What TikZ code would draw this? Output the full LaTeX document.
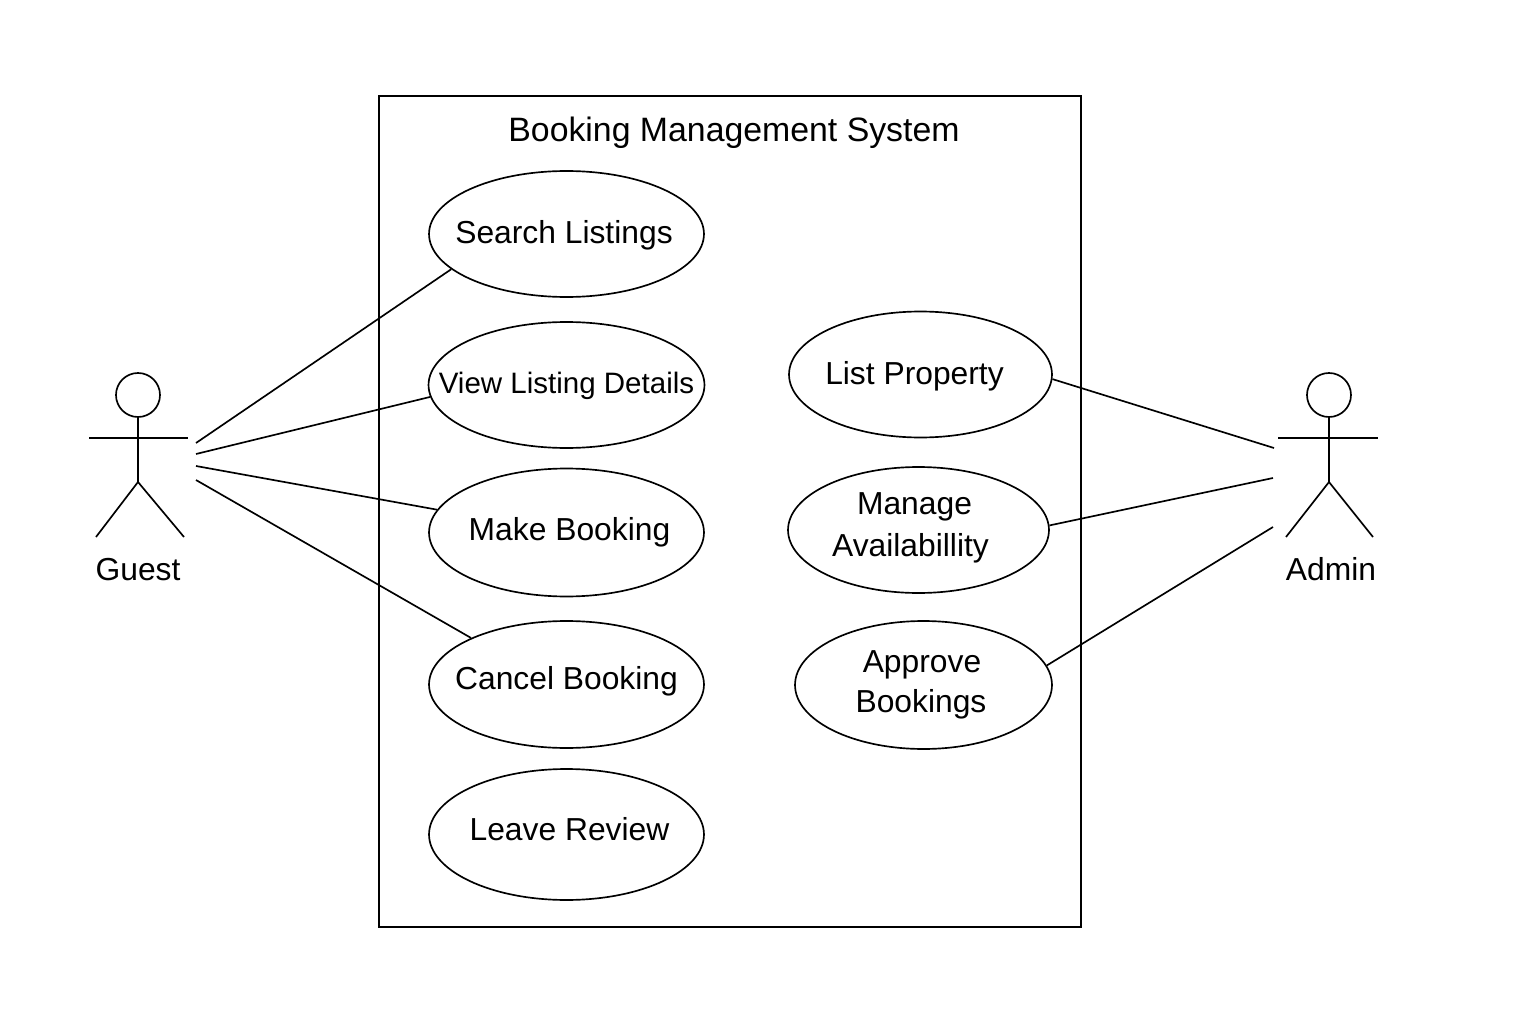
\documentclass[tikz,border=0pt]{standalone}
\usepackage{fontspec}
\setmainfont{Liberation Sans}
\usetikzlibrary{shapes.geometric}
\tikzset{
    usecase/.style = {draw, ellipse, inner sep=0pt},
    labeltext/.style = {font=\fontsize{18.1}{21}\selectfont, inner sep=0pt, align=center},
}
\begin{document}
\begin{tikzpicture} [x=0.02cm, y=-0.02cm, line width=0.95pt]
    \useasboundingbox (0, 0) rectangle (1536, 1024);

    % Systemgrenze
    \draw (379, 96) rectangle (1081, 927);
    \node [labeltext] (title) at (734, 132.5) {\fontsize{19.25}{22}\selectfont Booking Management System};

    % Anwendungsfaelle Guest
    \node [usecase, minimum width=5.5cm, minimum height=2.52cm] (search) at (566.5, 234) {};
    \node [labeltext] (searchtext) at (564, 235) {Search Listings};
    \node [usecase, minimum width=5.52cm, minimum height=2.52cm] (view) at (566.5, 385) {};
    \node [labeltext] (viewtext) at (566.5, 386) {\fontsize{16.8}{20}\selectfont View Listing Details};
    \node [usecase, minimum width=5.5cm, minimum height=2.56cm] (make) at (566.5, 532.5) {};
    \node [labeltext] (maketext) at (569.5, 532.5) {Make Booking};
    \node [usecase, minimum width=5.5cm, minimum height=2.54cm] (cancel) at (566.5, 684.5) {};
    \node [labeltext] (canceltext) at (566.5, 681) {Cancel Booking};
    \node [usecase, minimum width=5.5cm, minimum height=2.62cm] (review) at (566.5, 834.5) {};
    \node [labeltext] (reviewtext) at (569.5, 829) {Leave Review};

    % Anwendungsfaelle Admin
    \node [usecase, minimum width=5.26cm, minimum height=2.52cm] (list) at (920.5, 374.5) {};
    \node [labeltext] (listtext) at (914.5, 376) {List Property};
    \node [usecase, minimum width=5.22cm, minimum height=2.52cm] (manage) at (918.5, 530) {};
    \node [labeltext] (managetext) at (914.5, 507) {Manage};
    \node [labeltext] (availtext) at (910.5, 548.5) {Availabillity};
    \node [usecase, minimum width=5.14cm, minimum height=2.56cm] (approve) at (923.5, 685) {};
    \node [labeltext] (approvetext) at (922, 664.5) {Approve};
    \node [labeltext] (bookingstext) at (921, 704.5) {Bookings};

    % Akteur Guest
    \draw (138, 395) circle (22);
    \draw (89, 438) -- (188, 438);
    \draw (138, 417) -- (138, 482);
    \draw (96, 537) -- (138, 482) -- (184, 537);
    \node [labeltext] (guest) at (138, 569.5) {Guest};

    % Akteur Admin
    \draw (1329, 395) circle (22);
    \draw (1278, 438) -- (1378, 438);
    \draw (1329, 417) -- (1329, 482);
    \draw (1286, 537) -- (1329, 482) -- (1373, 537);
    \node [labeltext] (admin) at (1331, 569) {Admin};

    % Freie Enden
    \coordinate (g1) at (196, 443);
    \coordinate (g2) at (196, 454);
    \coordinate (g3) at (196, 466);
    \coordinate (g4) at (196, 480);
    \coordinate (a1) at (1274, 448);
    \coordinate (a2) at (1273, 478);
    \coordinate (a3) at (1273, 527);

    % Verbindungen
    \draw (g1) -- (search.197.7);
    \draw (g2) -- (view.185.2);
    \draw (g3) -- (make.170.7);
    \draw (g4) -- (cancel.154.6);
    \draw (list.358.6) -- (a1);
    \draw (manage.2.2) -- (a2);
    \draw (approve.9.4) -- (a3);
\end{tikzpicture}
\end{document}
